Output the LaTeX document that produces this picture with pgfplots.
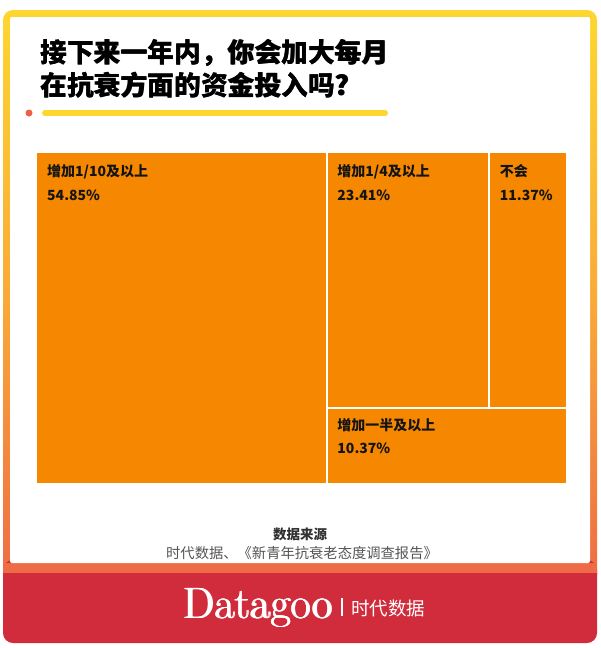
\documentclass[border=0pt]{standalone}
\usepackage{fontspec}
\usepackage{pgfplots}
\pgfplotsset{compat=1.18}
\newfontfamily\cjk{Noto Sans CJK SC}
\definecolor{frTop}{RGB}{253,214,48}
\definecolor{frMid}{RGB}{249,170,55}
\definecolor{frBot}{RGB}{238,107,69}
\definecolor{footRed}{RGB}{208,44,60}
\definecolor{tmOrange}{RGB}{245,136,0}
\definecolor{dotRed}{RGB}{238,96,70}
\definecolor{txtDark}{RGB}{20,20,20}
\definecolor{srcGray}{RGB}{85,85,85}
\definecolor{srcDark}{RGB}{50,50,50}
\tikzset{lbl/.style={anchor=base west, inner sep=0, font=\cjk\bfseries\fontsize{14}{16}\selectfont, text=txtDark},
  ttl/.style={anchor=base west, inner sep=0, font=\cjk\bfseries\fontsize{26.8}{30}\selectfont, text=black},
  dgo/.style={anchor=base east, inner sep=0, font=\rmfamily\fontsize{44}{48}\selectfont, text=white}}
\begin{document}
\begin{tikzpicture}[x=1pt,y=-1pt]
\useasboundingbox (0,0) rectangle (600,648);
\fill[white] (0,0) rectangle (600,648);
% frame
\shade[top color=frTop, bottom color=frBot, middle color=frMid, rounded corners=10pt] (3,10) rectangle (597,585);
\fill[footRed, rounded corners=10pt] (3,560) rectangle (597,643);
\fill[frBot] (3,563) rectangle (597,573);
\fill[white, rounded corners=2pt] (10,17) rectangle (590,563);
% title
\foreach \dx in {0,0.4}{
\node[ttl] at (40+\dx,62) {接下来一年内，你会加大每月};
\node[ttl] at (40+\dx,95) {在抗衰方面的资金投入吗?};
}
\draw[frTop, line width=6pt, line cap=round] (45,113) -- (385,113);
\fill[dotRed] (29,113) circle (3.5pt);
% treemap
\begin{axis}[at={(36pt,-484pt)}, anchor=south west, width=531pt, height=332pt,
  scale only axis, xmin=0, xmax=100, ymin=0, ymax=100, hide axis, clip=false]
\addplot[fill=tmOrange, draw=white, line width=2pt, mark=none] coordinates {(0,0) (54.85,0) (54.85,100) (0,100)} -- cycle;
\addplot[fill=tmOrange, draw=white, line width=2pt, mark=none] coordinates {(54.85,22.97) (85.24,22.97) (85.24,100) (54.85,100)} -- cycle;
\addplot[fill=tmOrange, draw=white, line width=2pt, mark=none] coordinates {(85.24,22.97) (100,22.97) (100,100) (85.24,100)} -- cycle;
\addplot[fill=tmOrange, draw=white, line width=2pt, mark=none] coordinates {(54.85,0) (100,0) (100,22.97) (54.85,22.97)} -- cycle;
\node[lbl, xshift=11pt, yshift=-24pt] at (axis cs:0,100) {增加1/10及以上};
\node[lbl, xshift=11pt, yshift=-48pt] at (axis cs:0,100) {54.85\%};
\node[lbl, xshift=10pt, yshift=-24pt] at (axis cs:54.85,100) {增加1/4及以上};
\node[lbl, xshift=10pt, yshift=-48pt] at (axis cs:54.85,100) {23.41\%};
\node[lbl, xshift=11pt, yshift=-24pt] at (axis cs:85.24,100) {不会};
\node[lbl, xshift=11pt, yshift=-48pt] at (axis cs:85.24,100) {11.37\%};
\node[lbl, xshift=10pt, yshift=-23pt] at (axis cs:54.85,22.97) {增加一半及以上};
\node[lbl, xshift=10pt, yshift=-46pt] at (axis cs:54.85,22.97) {10.37\%};
\end{axis}
% source
\node[anchor=base, inner sep=0, font=\cjk\bfseries\fontsize{13.5}{16}\selectfont, text=srcDark] at (300,539) {数据来源};
\node[anchor=base, inner sep=0, font=\cjk\fontsize{14.3}{16}\selectfont, text=srcGray] at (302,558) {时代数据、《新青年抗衰老态度调查报告》};
% footer
\foreach \dx in {0,0.5,1.0,1.5}{
\node[dgo] at (332+\dx,618) {Datagoo};
}
\draw[white, line width=1.2pt] (342,598) -- (342,616);
\node[anchor=base west, inner sep=0, font=\cjk\fontsize{18.5}{20}\selectfont, text=white] at (351,615) {时代数据};
\end{tikzpicture}
\end{document}
